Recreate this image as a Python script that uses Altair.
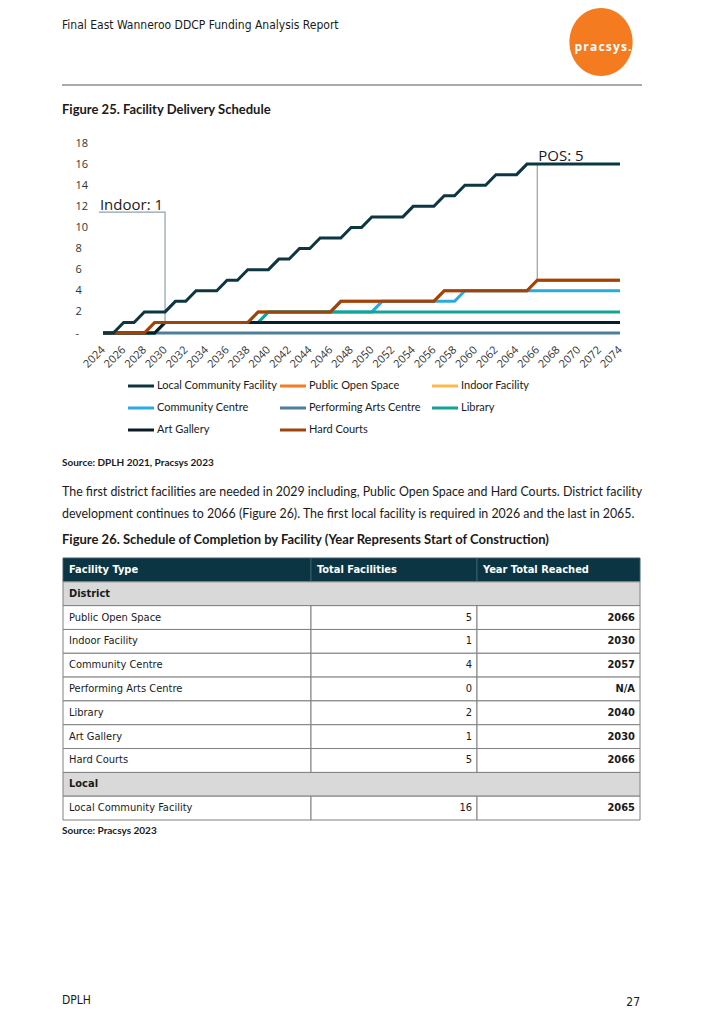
import altair as alt
import pandas as pd

# ---------------- data ----------------
years = list(range(2024, 2075))

local_community = [0,0,1,1,2,2,2,3,3,4,
                   4,4,5,5,6,6,6,7,7,8,
                   8,9,9,9,10,10,11,11,11,11,
                   12,12,12,13,13,14,14,14,15,15,
                   15,16,16,16,16,16,16,16,16,16,16]
public_open_space = [0]*5 + [1]*10 + [2]*8 + [3]*10 + [4]*9 + [5]*9
indoor_facility = [0]*6 + [1]*45
community_centre = [0]*6 + [1]*10 + [2]*11 + [3]*8 + [4]*16
performing_arts = [0]*51
library = [0]*6 + [1]*10 + [2]*35
art_gallery = [0]*6 + [1]*45
hard_courts = [0]*5 + [1]*10 + [2]*8 + [3]*10 + [4]*9 + [5]*9

series_names = ["Local Community Facility", "Public Open Space", "Indoor Facility",
                "Community Centre", "Performing Arts Centre", "Library",
                "Art Gallery", "Hard Courts"]
series_values = [local_community, public_open_space, indoor_facility, community_centre,
                 performing_arts, library, art_gallery, hard_courts]
series_colors = ["#0d3642", "#f47b20", "#fdb94b", "#29abe2",
                 "#4b7f9c", "#12a596", "#0a1d25", "#a0430a"]
draw_order = ["Public Open Space", "Indoor Facility", "Community Centre",
              "Performing Arts Centre", "Library", "Art Gallery", "Hard Courts",
              "Local Community Facility"]

x_tick_years = list(range(2024, 2075, 2))
y_tick_values = list(range(0, 19, 2))

annotation_labels = ["Indoor: 1", "POS: 5"]
annotation_years = [2023.7, 2066.1]
annotation_levels = [11.7, 16.3]
indoor_connector_years = [2023.6, 2030, 2030]
indoor_connector_levels = [11.45, 11.45, 1]
pos_connector_years = [2066, 2066]
pos_connector_levels = [5, 16]

table_header = ["Facility Type", "Total Facilities", "Year Total Reached"]
table_labels = ["District", "Public Open Space", "Indoor Facility", "Community Centre",
                "Performing Arts Centre", "Library", "Art Gallery", "Hard Courts",
                "Local", "Local Community Facility"]
table_totals = [None, "5", "1", "4", "0", "2", "1", "5", None, "16"]
table_years = [None, "2066", "2030", "2057", "N/A", "2040", "2030", "2066", None, "2065"]

header_text = "Final East Wanneroo DDCP Funding Analysis Report"
logo_text = "p\u200ar\u200aa\u200ac\u200as\u200ay\u200as\u200a."
fig25_title = "Figure 25. Facility Delivery Schedule"
source1 = "Source: DPLH 2021, Pracsys 2023"
para1 = "The first district facilities are needed in 2029 including, Public Open Space and Hard Courts. District facility"
para2 = "development continues to 2066 (Figure 26). The first local facility is required in 2026 and the last in 2065."
fig26_title = "Figure 26. Schedule of Completion by Facility (Year Represents Start of Construction)"
source2 = "Source: Pracsys 2023"
footer_left = "DPLH"
footer_right = "27"

# ---------------- layout / styles ----------------
W, H = 517, 190
PAD = {"left": 95, "top": 135, "right": 78, "bottom": 681}
COND = "DejaVu Sans Condensed, Liberation Sans Narrow, sans-serif"
BODY = "Lato, Open Sans, sans-serif"
AXF = "Open Sans, sans-serif"
INK = "#1a1a1a"
TABLE_EDGES = [-40, 208, 374, 537]
TABLE_TOP, TABLE_BOTTOM = 415, 677
TFS = 11

# ---------------- line chart ----------------
rows = []
for name, vals in zip(series_names, series_values):
    for yr, v in zip(years, vals):
        rows.append({"series": name, "year": yr, "value": v})
lines_df = pd.DataFrame(rows)

xscale = alt.Scale(domain=[2024, 2074], nice=False, zero=False)
yscale = alt.Scale(domain=[0, 18], nice=False)
X = alt.X("year:Q", scale=xscale, title=None,
          axis=alt.Axis(values=x_tick_years, format="d", labelAngle=-45, labelAlign="right",
                        labelBaseline="middle", labelPadding=15, ticks=False, tickSize=0,
                        grid=False, domainColor="#dddddd", labelFont=AXF, labelFontSize=11,
                        labelColor="#333333", labelOverlap=False))
Y = alt.Y("value:Q", scale=yscale, title=None,
          axis=alt.Axis(values=y_tick_values, labelExpr="datum.value == 0 ? '-' : datum.label",
                        ticks=False, tickSize=0, domain=False, grid=False, labelAlign="left",
                        labelPadding=28, labelFont=AXF, labelFontSize=11, labelColor="#333333"))
C = alt.Color("series:N", scale=alt.Scale(domain=series_names, range=series_colors), legend=None)

base = alt.Chart(lines_df)
line_layers = [
    base.transform_filter(alt.datum.series == s)
        .mark_line(strokeWidth=3, strokeJoin="miter")
        .encode(x=X, y=Y, color=C)
    for s in draw_order
]

ind_df = pd.DataFrame({"year": indoor_connector_years, "value": indoor_connector_levels,
                       "i": list(range(len(indoor_connector_years)))})
pos_df = pd.DataFrame({"year": pos_connector_years, "value": pos_connector_levels,
                       "i": list(range(len(pos_connector_years)))})
ann_df = pd.DataFrame({"label": annotation_labels, "year": annotation_years,
                       "value": annotation_levels})
conn_ind = alt.Chart(ind_df).mark_line(color="#8fa2ac", strokeWidth=1.2).encode(
    x=X, y=Y, order="i:Q")
conn_pos = alt.Chart(pos_df).mark_line(color="#8fa2ac", strokeWidth=1.2).encode(
    x=X, y=Y, order="i:Q")
ann_text = alt.Chart(ann_df).mark_text(align="left", baseline="alphabetic", fontSize=15,
                                       font=AXF, color=INK).encode(x=X, y=Y, text="label:N")

lines_group = alt.layer(conn_ind, conn_pos, *line_layers, ann_text)

# ---------------- legend ----------------
leg_df = pd.DataFrame({"series": series_names,
                       "col": [i % 3 for i in range(len(series_names))],
                       "lrow": [i // 3 for i in range(len(series_names))]})
LX = alt.X("col:Q", scale=alt.Scale(domain=[0, 2], range=[25, 329]), axis=None)
LY = alt.Y("lrow:Q", scale=alt.Scale(domain=[0, 2], range=[243, 287]), axis=None)
leg_sym = alt.Chart(leg_df).mark_point(shape="M -1 0 L 1 0", size=676, strokeWidth=3,
                                       filled=False, opacity=1, xOffset=13).encode(
    x=LX, y=LY, color=C)
leg_txt = alt.Chart(leg_df).mark_text(align="left", baseline="middle", dx=29, fontSize=11,
                                      font=BODY, color=INK).encode(x=LX, y=LY, text="series:N")
legend_group = alt.layer(leg_sym, leg_txt)

# ---------------- table ----------------
cells = []
r = 0
for j, h in enumerate(table_header):
    cells.append({"row": r, "kind": "header", "x0": TABLE_EDGES[j], "x1": TABLE_EDGES[j + 1],
                  "tx": TABLE_EDGES[j] + 6, "text": h, "role": "left"})
for lab, tot, yr in zip(table_labels, table_totals, table_years):
    r += 1
    if tot is None:
        cells.append({"row": r, "kind": "section", "x0": TABLE_EDGES[0], "x1": TABLE_EDGES[3],
                      "tx": TABLE_EDGES[0] + 6, "text": lab, "role": "left"})
    else:
        cells.append({"row": r, "kind": "item", "x0": TABLE_EDGES[0], "x1": TABLE_EDGES[1],
                      "tx": TABLE_EDGES[0] + 6, "text": lab, "role": "left"})
        cells.append({"row": r, "kind": "item", "x0": TABLE_EDGES[1], "x1": TABLE_EDGES[2],
                      "tx": TABLE_EDGES[2] - 5, "text": tot, "role": "total"})
        cells.append({"row": r, "kind": "item", "x0": TABLE_EDGES[2], "x1": TABLE_EDGES[3],
                      "tx": TABLE_EDGES[3] - 5, "text": yr, "role": "year"})
cells_df = pd.DataFrame(cells)
nrows = r + 1

tscale_x = alt.Scale(domain=[TABLE_EDGES[0], TABLE_EDGES[3]],
                     range=[TABLE_EDGES[0], TABLE_EDGES[3]])
TY = alt.Y("row:O", scale=alt.Scale(type="band", domain=list(range(nrows)),
                                    range=[TABLE_TOP, TABLE_BOTTOM], paddingInner=0,
                                    paddingOuter=0), axis=None)
TX0 = alt.X("x0:Q", scale=tscale_x, axis=None)
TTX = alt.X("tx:Q", scale=tscale_x, axis=None)
tb = alt.Chart(cells_df)
rect_header = tb.transform_filter(alt.datum.kind == "header").mark_rect(
    fill="#0b3542", stroke="#3d5f6a", strokeWidth=1).encode(x=TX0, x2="x1:Q", y=TY)
rect_section = tb.transform_filter(alt.datum.kind == "section").mark_rect(
    fill="#d9d9d9", stroke="#808080", strokeWidth=1).encode(x=TX0, x2="x1:Q", y=TY)
rect_item = tb.transform_filter(alt.datum.kind == "item").mark_rect(
    fill="#ffffff", stroke="#808080", strokeWidth=1).encode(x=TX0, x2="x1:Q", y=TY)
t_header = tb.transform_filter(alt.datum.kind == "header").mark_text(
    align="left", baseline="middle", font=COND, fontSize=TFS, fontWeight="bold",
    color="#ffffff").encode(x=TTX, y=TY, text="text:N")
t_section = tb.transform_filter(alt.datum.kind == "section").mark_text(
    align="left", baseline="middle", font=COND, fontSize=TFS, fontWeight="bold",
    color=INK).encode(x=TTX, y=TY, text="text:N")
t_name = tb.transform_filter((alt.datum.kind == "item") & (alt.datum.role == "left")).mark_text(
    align="left", baseline="middle", font=COND, fontSize=TFS, color=INK).encode(
    x=TTX, y=TY, text="text:N")
t_total = tb.transform_filter(alt.datum.role == "total").mark_text(
    align="right", baseline="middle", font=COND, fontSize=TFS, color=INK).encode(
    x=TTX, y=TY, text="text:N")
t_year = tb.transform_filter(alt.datum.role == "year").mark_text(
    align="right", baseline="middle", font=COND, fontSize=TFS, fontWeight="bold",
    color=INK).encode(x=TTX, y=TY, text="text:N")
table_group = alt.layer(rect_header, rect_section, rect_item, t_header, t_section,
                        t_name, t_total, t_year)

# ---------------- page texts ----------------
one = pd.DataFrame({"k": [0]})


def txt(s, x, y, size, weight="normal", font=BODY, align="left", color=INK):
    return alt.Chart(one).mark_text(text=s, align=align, baseline="middle", fontSize=size,
                                    fontWeight=weight, font=font, color=color).encode(
        x=alt.value(x), y=alt.value(y))


logo = alt.Chart(one).mark_point(
    shape="M -0.93 0 A 0.93 1 0 1 1 0.93 0 A 0.93 1 0 1 1 -0.93 0 Z",
    size=4624, filled=True, fill="#f47b20", opacity=1, strokeWidth=0).encode(
    x=alt.value(498), y=alt.value(-101))
head_rule = alt.Chart(one).mark_rule(color="#8c8c8c", strokeWidth=1.5).encode(
    x=alt.value(-41), x2=alt.value(539), y=alt.value(-58))

page = [
    logo, head_rule,
    txt(logo_text, 500, -96, 12, "bold", AXF, "center", "#ffffff"),
    txt(header_text, -41, -118, 12, "normal", COND),
    txt(fig25_title, -41, -33, 13, "bold"),
    txt(source1, -41, 320, 10, "bold"),
    txt(para1, -41, 349, 12.4),
    txt(para2, -41, 371, 12.4),
    txt(fig26_title, -41, 397, 13, "bold"),
    txt(source2, -41, 688, 10, "bold"),
    txt(footer_left, -41, 857, 12, "normal", COND),
    txt(footer_right, 537, 859, 12, "normal", COND, "right"),
]

chart = alt.layer(lines_group, legend_group, table_group, *page).resolve_scale(
    x="independent", y="independent"
).properties(
    width=W, height=H, padding=PAD, autosize=alt.AutoSizeParams(type="none"),
    background="#ffffff"
).configure_view(stroke=None)

chart.save("out.html", embed_options={"renderer": "svg", "actions": False})
